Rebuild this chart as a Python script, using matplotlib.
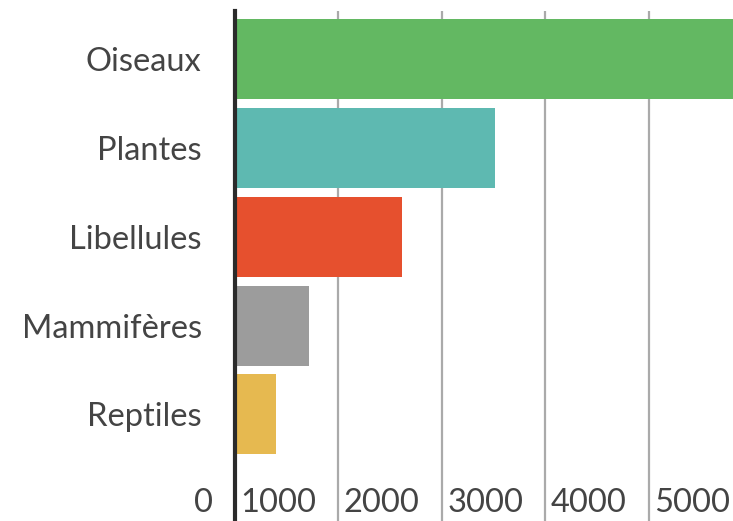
import matplotlib.pyplot as plt
import matplotlib.transforms as mtransforms

# Data
categories = ['Oiseaux', 'Plantes', 'Libellules', 'Mammifères', 'Reptiles']
counts = [5300, 2510, 1615, 715, 400]
colors = ['#63b862', '#5eb9b1', '#e6502e', '#9c9c9c', '#e6b950']
tick_values = [0, 1000, 2000, 3000, 4000, 5000]
tick_labels = ['0', '1000', '2000', '3000', '4000', '5000']

plt.rcParams['font.family'] = ['Lato', 'DejaVu Sans']

W, H, DPI = 733, 521, 100
fig = plt.figure(figsize=(W / DPI, H / DPI), dpi=DPI)

# axes run past the right edge of the figure, like the clipped original
x0_px, px_per_1000, top_px = 235, 103.4, 11
xmax = 5600
ax = fig.add_axes([x0_px / W, 0, xmax / 1000 * px_per_1000 / W, (H - top_px) / H])

ypos = list(range(len(categories)))
ax.barh(ypos, counts, height=0.9, color=colors, zorder=2)

ax.set_xlim(0, xmax)
ax.set_ylim(5.2, -0.54)

ax.set_yticks(ypos)
ax.set_yticklabels(categories, fontsize=23.5, color='#444444')
ax.tick_params(axis='y', length=0, pad=24)

ax.set_xticks(tick_values)
ax.set_xticklabels(tick_labels, fontsize=23.5, color='#444444')
ax.tick_params(axis='x', length=0, pad=-6.5)
shift = mtransforms.ScaledTranslation(-22 / DPI, 0, fig.dpi_scale_trans)
for lbl in ax.get_xticklabels():
    lbl.set_horizontalalignment('right')
    lbl.set_verticalalignment('baseline')
    lbl.set_transform(lbl.get_transform() + shift)

ax.grid(axis='x', color='#aaaaaa', linewidth=1.6, zorder=0)
ax.set_axisbelow(True)

for side in ['top', 'right', 'bottom']:
    ax.spines[side].set_visible(False)
ax.spines['left'].set_color('#2b2b2b')
ax.spines['left'].set_linewidth(3)
ax.spines['left'].set_zorder(3)

fig.savefig('out.png', dpi=DPI)
